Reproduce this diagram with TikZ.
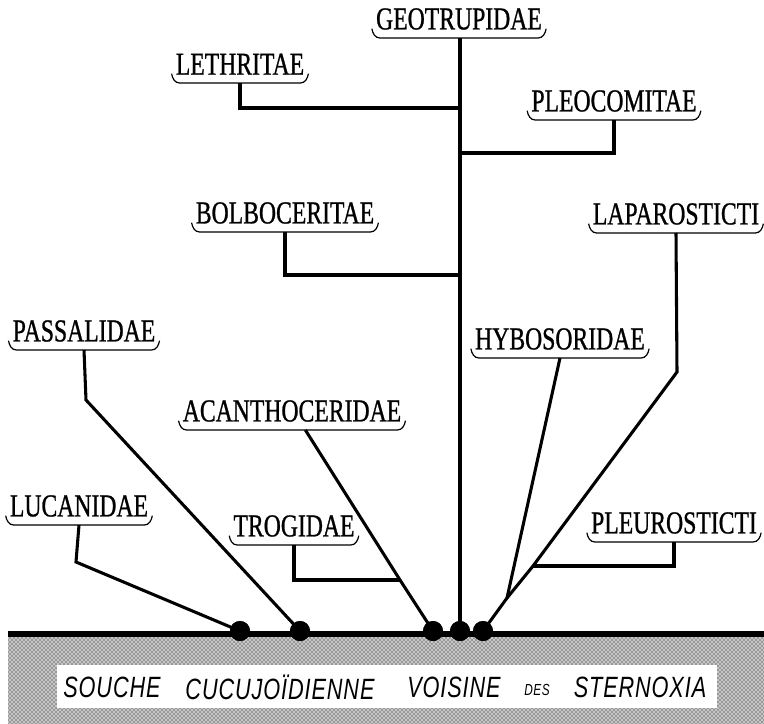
\documentclass[tikz,border=0pt]{standalone}
\usepackage{fontspec}
\setmainfont{Liberation Serif}
\newfontfamily\labfont[FakeStretch=0.74, FakeBold=0.8]{Liberation Serif}
\newfontfamily\groundfont[FakeStretch=0.74, LetterSpace=3]{Liberation Sans}
\usetikzlibrary{patterns}

% bracket under a label
\newcommand{\brak}[1]{\draw[line width=0.9pt] ([yshift=7pt]#1.south west)
    to[out=-80,in=180] ([xshift=6pt]#1.south west) -- ([xshift=-6pt]#1.south east)
    to[out=0,in=-100] ([yshift=7pt]#1.south east);}

\begin{document}
\begin{tikzpicture}[x=0.75pt, y=-0.75pt,
    lab/.style = {font=\labfont\fontsize{24}{24}\selectfont,
      anchor=south, inner xsep=3pt, inner ysep=6pt},
    stem/.style = {line width=2.3pt},
    dot/.style = {circle, fill, inner sep=0pt, minimum size=15pt},
    word/.style = {font=\groundfont\itshape\fontsize{22}{22}\selectfont,
      inner sep=0pt}]
  \useasboundingbox (0,0) rectangle (764,724);

  % ground
  \fill[black!22] (8,637) rectangle (764,724);
  \fill[pattern=crosshatch dots] (8,637) rectangle (764,724);
  \fill[white] (57,665) rectangle (717,708);
  \draw[line width=4pt] (8,634) -- (764,634);

  % labels
  \node[lab] (geo) at (459,38) {GEOTRUPIDAE};
  \node[lab] (leth) at (240,83) {LETHRITAE};
  \node[lab] (pleo) at (614,120) {PLEOCOMITAE};
  \node[lab] (bolb) at (285,232) {BOLBOCERITAE};
  \node[lab] (lapa) at (676,233) {LAPAROSTICTI};
  \node[lab] (hybo) at (560,358) {HYBOSORIDAE};
  \node[lab] (pass) at (84,350) {PASSALIDAE};
  \node[lab] (acan) at (292,430) {ACANTHOCERIDAE};
  \node[lab] (pleu) at (674,542) {PLEUROSTICTI};
  \node[lab] (trog) at (294,545) {TROGIDAE};
  \node[lab] (luca) at (79,525) {LUCANIDAE};
  \foreach \n in {geo,leth,pleo,bolb,lapa,hybo,pass,acan,pleu,trog,luca}
    {\brak{\n}}

  % dots on the ground line
  \node[dot] (d1) at (240,631) {};
  \node[dot] (d2) at (300,631) {};
  \node[dot] (d3) at (433,631) {};
  \node[dot] (d4) at (460,631) {};
  \node[dot] (d5) at (483,631) {};

  % junctions
  \coordinate (jleth) at (460,108);
  \coordinate (jpleo) at (460,153);
  \coordinate (jbolb) at (460,275);
  \coordinate (klapa) at (677,372);
  \coordinate (jpleu) at (533,566);
  \coordinate (jhybo) at (507,598);
  \coordinate (kpass) at (86,400);
  \coordinate (kluca) at (76,562);
  \coordinate (jtrog) at (400,580);

  % stems
  \draw[stem] (geo.south -| d4) -- (d4.center);
  \draw[stem] (leth.south) |- (jleth);
  \draw[stem] (pleo.south) |- (jpleo);
  \draw[stem] (bolb.south) |- (jbolb);
  \draw[stem] (lapa.south) -- (klapa) -- (jpleu) -- (jhybo) -- (d5.center);
  \draw[stem] (pleu.south) |- (jpleu);
  \draw[stem] (hybo.south) -- (jhybo);
  \draw[stem] (pass.south) -- (kpass) -- (d2.center);
  \draw[stem] (luca.south) -- (kluca) -- (d1.center);
  \draw[stem] ([xshift=10pt]acan.south) -- (jtrog) -- (d3.center);
  \draw[stem] (trog.south) |- (jtrog);
  \foreach \d in {d1,d2,d3,d4,d5} {\node[dot] at (\d) {};}

  % ground text
  \node[word] (w1) at (112,687) {SOUCHE};
  \node[word] (w2) at (280,687) {CUCUJOÏDIENNE};
  \node[word] (w3) at (454,687) {VOISINE};
  \node[word] (w4) at (537,690) {\fontsize{12}{12}\selectfont DES};
  \node[word] (w5) at (640,687) {STERNOXIA};
\end{tikzpicture}
\end{document}
